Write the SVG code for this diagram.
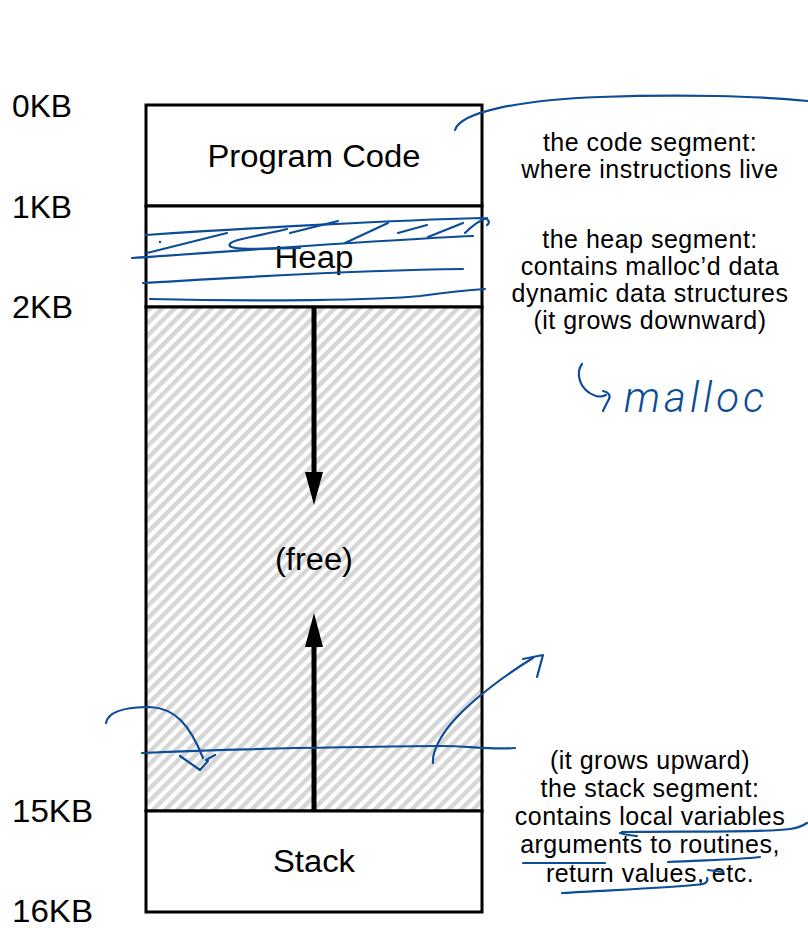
<svg xmlns="http://www.w3.org/2000/svg" width="808" height="928" viewBox="0 0 808 928">
  <style>
    .lbl { font-family: "Liberation Sans", Arial, sans-serif; font-size: 31px; fill: #000; }
    .seg { font-family: "Liberation Sans", Arial, sans-serif; font-size: 31px; fill: #000; text-anchor: middle; }
    .note { font-family: "Liberation Sans", Arial, sans-serif; font-size: 25px; letter-spacing: 0.5px; fill: #000; text-anchor: middle; }
    .box { fill: #fff; stroke: #000; stroke-width: 3; }
    .ink { fill: none; stroke: #0d4c98; stroke-width: 2.2; stroke-linecap: round; stroke-linejoin: round; }
    .hand { font-family: Roboto, "DejaVu Sans", sans-serif; font-style: italic; font-weight: 300; font-size: 42px; fill: #0d4c98; }
  </style>
  <defs>
    <pattern id="hatch" patternUnits="userSpaceOnUse" width="8.7" height="8.7" patternTransform="rotate(45)">
      <rect width="8.7" height="8.7" fill="#fff"/>
      <rect width="4.5" height="8.7" fill="#d6d6d6"/>
    </pattern>
  </defs>
  <rect width="808" height="928" fill="#fff"/>

  <!-- address labels -->
  <g id="addresses">
    <text class="lbl" x="12" y="117" textLength="60" lengthAdjust="spacingAndGlyphs">0KB</text>
    <text class="lbl" x="12" y="218" textLength="60" lengthAdjust="spacingAndGlyphs">1KB</text>
    <text class="lbl" x="12" y="318" textLength="61" lengthAdjust="spacingAndGlyphs">2KB</text>
    <text class="lbl" x="12" y="822" textLength="81" lengthAdjust="spacingAndGlyphs">15KB</text>
    <text class="lbl" x="12" y="922" textLength="81" lengthAdjust="spacingAndGlyphs">16KB</text>
  </g>

  <!-- address-space segments -->
  <g id="code-segment">
    <rect class="box" x="146" y="105" width="336" height="101"/>
    <text class="seg" x="314" y="167" textLength="213" lengthAdjust="spacingAndGlyphs">Program Code</text>
  </g>
  <g id="heap-segment">
    <rect class="box" x="146" y="206" width="336" height="101"/>
    <text class="seg" x="314" y="268" textLength="79" lengthAdjust="spacingAndGlyphs">Heap</text>
  </g>
  <g id="free-region">
    <rect x="146" y="307" width="336" height="504" fill="url(#hatch)" stroke="#000" stroke-width="3"/>
    <text class="seg" x="314" y="570" textLength="78" lengthAdjust="spacingAndGlyphs">(free)</text>
  </g>
  <g id="stack-segment">
    <rect class="box" x="146" y="811" width="336" height="101"/>
    <text class="seg" x="314" y="872" textLength="82" lengthAdjust="spacingAndGlyphs">Stack</text>
  </g>

  <!-- growth arrows -->
  <g id="connectors">
    <line x1="314" y1="307" x2="314" y2="474" stroke="#000" stroke-width="5"/>
    <polygon points="305,472 323,472 314,505" fill="#000"/>
    <line x1="314" y1="811" x2="314" y2="645" stroke="#000" stroke-width="5"/>
    <polygon points="305,647 323,647 314,613" fill="#000"/>
  </g>

  <!-- segment descriptions -->
  <g id="code-note">
    <text class="note" x="650" y="151">the code segment:</text>
    <text class="note" x="650" y="178">where instructions live</text>
  </g>
  <g id="heap-note">
    <text class="note" x="650" y="248">the heap segment:</text>
    <text class="note" x="650" y="275">contains malloc’d data</text>
    <text class="note" x="650" y="302">dynamic data structures</text>
    <text class="note" x="650" y="329">(it grows downward)</text>
  </g>
  <g id="stack-note">
    <text class="note" x="650" y="769">(it grows upward)</text>
    <text class="note" x="650" y="797">the stack segment:</text>
    <text class="note" x="650" y="825">contains local variables</text>
    <text class="note" x="650" y="853">arguments to routines,</text>
    <text class="note" x="650" y="882">return values, etc.</text>
  </g>

  <!-- pen annotations -->
  <g id="ink">
    <path class="ink" d="M455,130 C460,112 520,100 600,97 C680,94 760,96 808,101"/>
    <!-- heap scribble -->
    <path class="ink" d="M146,235 C250,228 400,220 481,218 C490,218 490,223 487,225"/>
    <path class="ink" d="M132,258 C220,252 380,240 473,236"/>
    <path class="ink" d="M147,253 L227,233"/>
    <path class="ink" d="M287,229 C260,236 225,240 230,246 C233,250 260,249 300,248"/>
    <path class="ink" d="M290,233 L338,221"/>
    <path class="ink" d="M345,243 L388,223"/>
    <path class="ink" d="M398,233 L427,225"/>
    <path class="ink" d="M428,237 L463,223"/>
    <path class="ink" d="M465,233 C472,226 480,220 487,218"/>
    <circle cx="160" cy="242" r="1.2" fill="#0d4c98"/>
    <path class="ink" d="M143,283 C230,278 350,270 463,269"/>
    <path class="ink" d="M150,299 C260,302 380,300 420,296 C450,292 470,290 485,289"/>
    <!-- malloc note -->
    <path class="ink" d="M582,364 C576,372 578,390 596,396 C600,397 604,396 606,395"/>
    <path class="ink" d="M603,391 C608,392 611,395 609,399 C607,403 604,408 603,411"/>
    <text class="hand" x="624" y="412" textLength="140" lengthAdjust="spacing">malloc</text>
    <!-- stack / free scribble -->
    <path class="ink" d="M106,723 C108,712 125,707 150,707 C175,708 190,725 203,758"/>
    <path class="ink" d="M180,756 L200,770 L208,761 M206,760 L215,755"/>
    <path class="ink" d="M142,753 C230,749 330,747 440,746 C470,746 490,750 515,748"/>
    <path class="ink" d="M433,763 C432,752 440,735 457,717 C475,698 505,675 533,658"/>
    <path class="ink" d="M523,659 L543,655 L537,677"/>
    <path class="ink" d="M620,833 C626,835 636,836 637,836 M622,832 C680,831 760,833 790,829 C798,828 804,825 807,823"/>
    <path class="ink" d="M523,863 L605,863"/>
    <path class="ink" d="M668,862 C700,860 735,860 760,857"/>
    <path class="ink" d="M562,893 C610,890 670,888 703,884 C707,883 708,880 707,878"/>
    <path class="ink" d="M708,870 L723,872"/>
  </g>
</svg>
